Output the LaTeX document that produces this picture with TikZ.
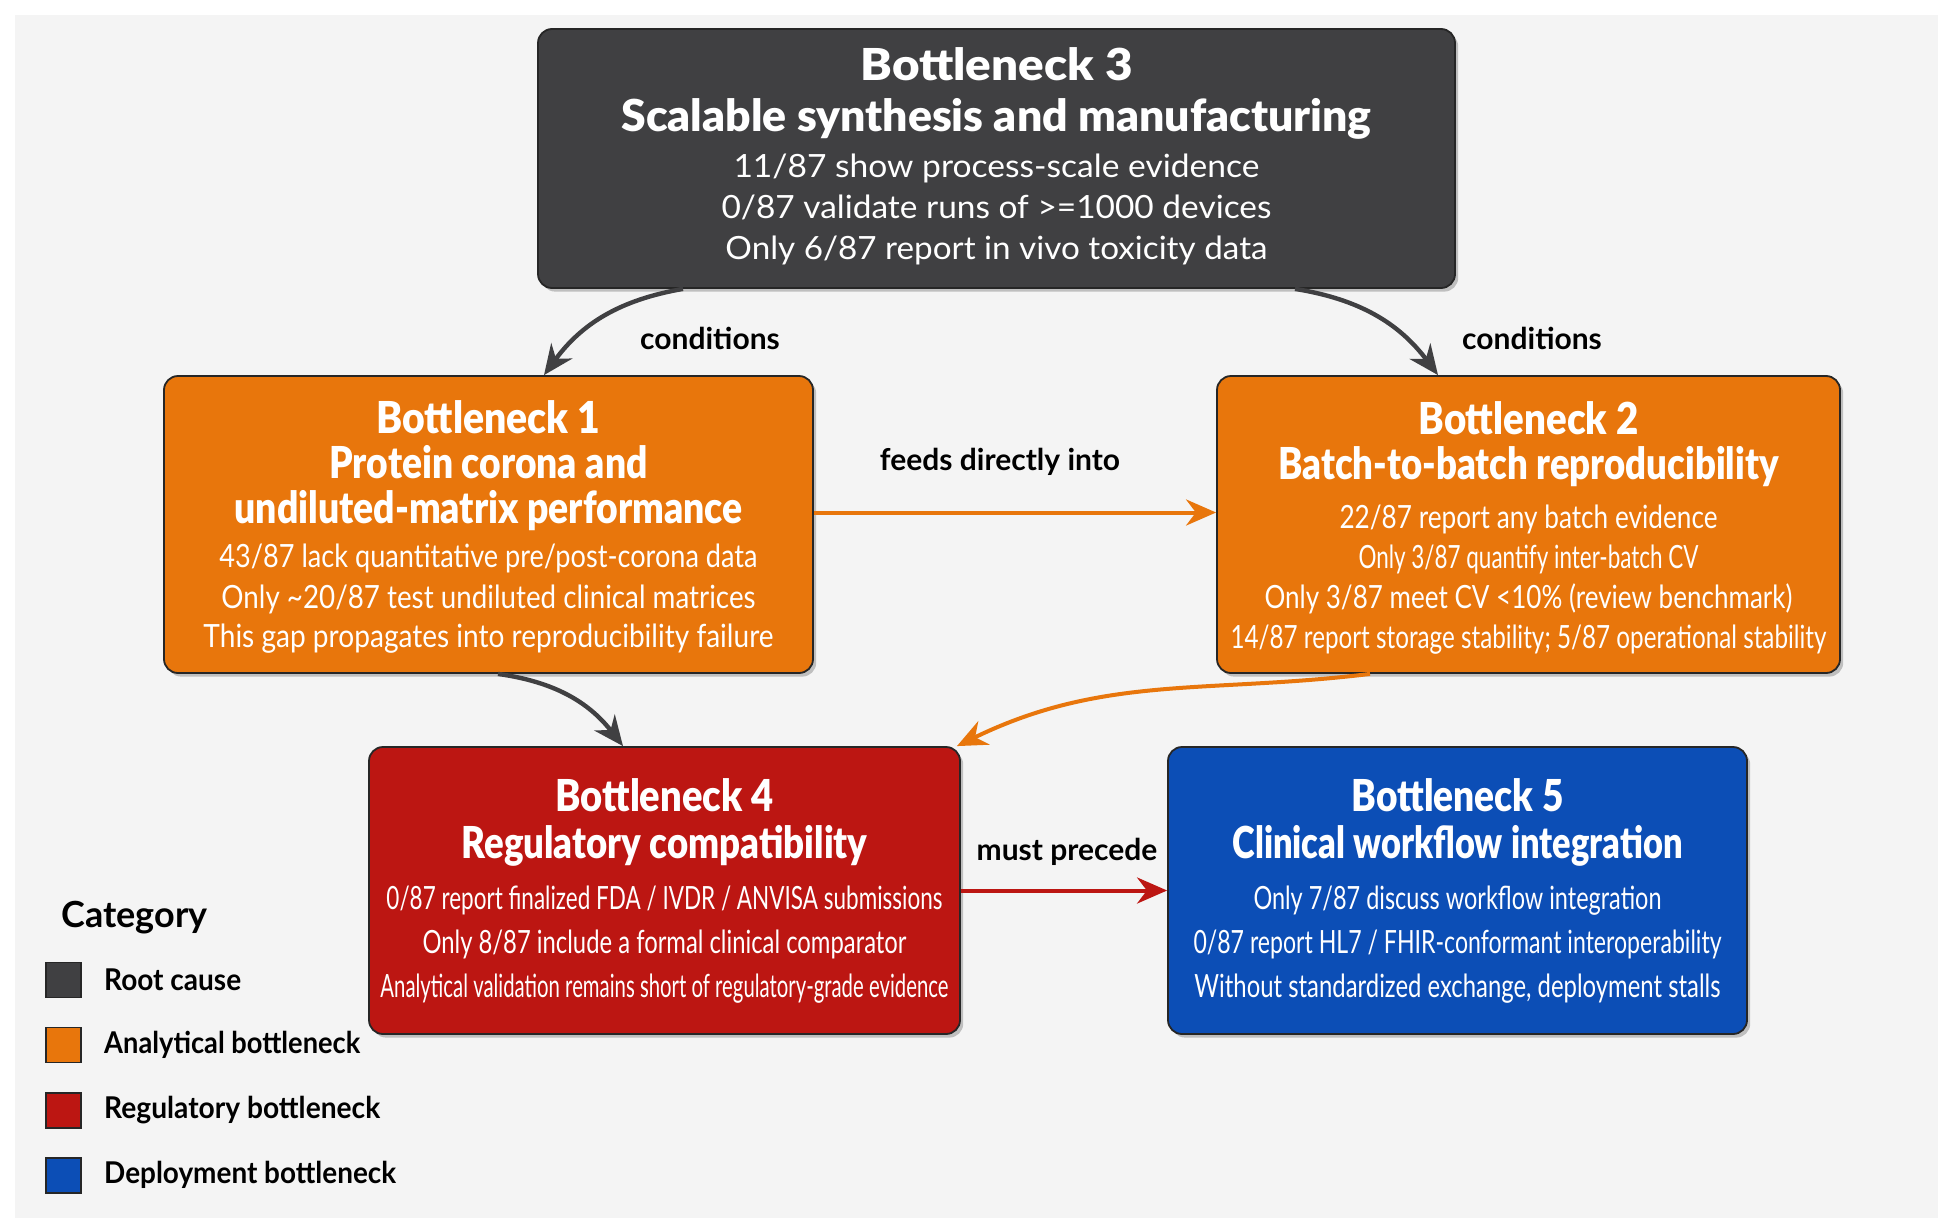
\documentclass[tikz,border=0pt]{standalone}
\usepackage{fontspec}
\setmainfont{Lato}
\newfontfamily\heavyfont{Lato Black}
\usepackage{graphicx}
\usetikzlibrary{arrows.meta,shadows,positioning}

\definecolor{rootgray}{RGB}{64,64,66}
\definecolor{anaorange}{RGB}{232,118,12}
\definecolor{regred}{RGB}{188,22,18}
\definecolor{depblue}{RGB}{12,78,182}
\definecolor{panelgray}{RGB}{244,244,244}

% squeeze one line to a given width, height kept
\newcommand{\fitline}[2]{\resizebox{#1}{\height}{#2}}
\newcommand{\bntitle}{\fontsize{22}{26}\selectfont\heavyfont}

\tikzset{
	bnbox/.style={rectangle, rounded corners=7pt, draw=black!85, line width=0.9pt,
		text=white, align=center, inner sep=0pt,
		drop shadow={shadow xshift=1.6pt, shadow yshift=-1.8pt, opacity=0.45}},
	link/.style={line width=2.2pt, -{Stealth[length=15pt,width=13pt]}},
	linklabel/.style={font=\fontsize{15}{18}\selectfont\bfseries, text=black},
	legsq/.style={draw=black!85, line width=0.8pt, minimum size=17.5pt, inner sep=0pt},
	legtext/.style={font=\fontsize{15}{18}\selectfont\bfseries, anchor=west, inner sep=0pt}
}

\begin{document}
\begin{tikzpicture}[x=0.5pt, y=-0.5pt]
	\useasboundingbox (0,0) rectangle (1953,1231);
	\fill [white] (0,0) rectangle (1953,1231);
	\fill [panelgray] (15,15) rectangle (1938,1218);

	% bottleneck boxes
	\node [bnbox, fill=rootgray, minimum width=458.5pt, minimum height=129.5pt,
		font=\fontsize{16}{20.5}\selectfont] (b3) at (996.5,158.5)
		{{\bntitle\fitline{136pt}{Bottleneck 3}}\\[5pt]
		 {\bntitle\fitline{375pt}{Scalable synthesis and manufacturing}}\\[2.6pt]
		 \fitline{263pt}{11/87 show process-scale evidence}\\
		 \fitline{275pt}{0/87 validate runs of >=1000 devices}\\
		 \fitline{271pt}{Only 6/87 report in vivo toxicity data}\rule[-5.1pt]{0pt}{5.1pt}};

	\node [bnbox, fill=anaorange, minimum width=324.5pt, minimum height=148.5pt,
		font=\fontsize{16}{20.5}\selectfont] (b1) at (488.5,524.5)
		{{\bntitle\rule{0pt}{18.6pt}\fitline{112pt}{Bottleneck 1}}\\[2pt]
		 {\bntitle\fitline{159pt}{Protein corona and}}\\[2pt]
		 {\bntitle\fitline{254pt}{undiluted-matrix performance}}\\[1.5pt]
		 \fitline{269pt}{43/87 lack quantitative pre/post-corona data}\\
		 \fitline{267pt}{Only \textasciitilde20/87 test undiluted clinical matrices}\\[-1pt]
		 \fitline{285pt}{This gap propagates into reproducibility failure}};

	\node [bnbox, fill=anaorange, minimum width=311.5pt, minimum height=148.5pt,
		font=\fontsize{16}{20}\selectfont] (b2) at (1528.5,524.5)
		{{\bntitle\rule{0pt}{19.9pt}\fitline{110pt}{Bottleneck 2}}\\[2.5pt]
		 {\bntitle\fitline{250pt}{Batch-to-batch reproducibility}}\\[4.6pt]
		 \fitline{189pt}{22/87 report any batch evidence}\\
		 \fitline{170pt}{Only 3/87 quantify inter-batch CV}\\
		 \fitline{264pt}{Only 3/87 meet CV <10\% (review benchmark)}\\
		 \fitline{298pt}{14/87 report storage stability; 5/87 operational stability}};

	\node [bnbox, fill=regred, minimum width=295.5pt, minimum height=143.5pt,
		font=\fontsize{16}{22}\selectfont] (b4) at (664.5,890.5)
		{{\bntitle\fitline{109pt}{Bottleneck 4}}\\[1.5pt]
		 {\bntitle\fitline{203pt}{Regulatory compatibility}}\\[3.5pt]
		 \fitline{278pt}{0/87 report finalized FDA / IVDR / ANVISA submissions}\\
		 \fitline{242pt}{Only 8/87 include a formal clinical comparator}\\
		 \fitline{284pt}{Analytical validation remains short of regulatory-grade evidence}};

	\node [bnbox, fill=depblue, minimum width=289.5pt, minimum height=143.5pt,
		font=\fontsize{16}{22}\selectfont] (b5) at (1457.5,890.5)
		{{\bntitle\fitline{106pt}{Bottleneck 5}}\\[1.5pt]
		 {\bntitle\fitline{225pt}{Clinical workflow integration}}\\[3.5pt]
		 \fitline{204pt}{Only 7/87 discuss workflow integration}\\
		 \fitline{264pt}{0/87 report HL7 / FHIR-conformant interoperability}\\
		 \fitline{263pt}{Without standardized exchange, deployment stalls}};

	% connectors
	\draw [link, draw=rootgray] ([xshift=-156.75pt]b3.south) to [bend right=22] ([xshift=27.75pt]b1.north);
	\draw [link, draw=rootgray] ([xshift=149.25pt]b3.south) to [bend left=22] ([xshift=-45.25pt]b2.north);
	\draw [link, draw=anaorange, line width=2pt] ([yshift=6pt]b1.east) -- ([yshift=6pt]b2.west);
	\draw [link, draw=rootgray] ([xshift=4.75pt]b1.south) to [bend left=22] ([xshift=-20.75pt]b4.north);
	\draw [link, draw=anaorange, line width=2pt] ([xshift=-79.25pt]b2.south) to [out=187, in=26] ([xshift=-2pt]b4.north east);
	\draw [link, draw=regred, line width=2pt] (b4.east) -- (b5.west);

	\node [linklabel] (cond1) at (710,338) {conditions};
	\node [linklabel] (cond2) at (1532,338) {conditions};
	\node [linklabel] (feeds) at (1000,462) {feeds directly into};
	\node [linklabel] (precede) at (1067,852) {must precede};

	% legend
	\node [font=\fontsize{18}{20}\selectfont\bfseries, anchor=west, inner sep=0pt] (legtitle) at (61,918) {Category};
	\node [legsq, fill=rootgray] (sqroot) at (63.5,980) {};
	\node [legsq, fill=anaorange, below=14.25pt of sqroot] (sqana) {};
	\node [legsq, fill=regred, below=14.25pt of sqana] (sqreg) {};
	\node [legsq, fill=depblue, below=14.25pt of sqreg] (sqdep) {};
	\node [legtext, right=11pt of sqroot] (txtroot) {\fitline{68.5pt}{Root cause}};
	\node [legtext, right=11pt of sqana] (txtana) {\fitline{128pt}{Analytical bottleneck}};
	\node [legtext, right=11pt of sqreg] (txtreg) {\fitline{138pt}{Regulatory bottleneck}};
	\node [legtext, right=11pt of sqdep] (txtdep) {\fitline{146pt}{Deployment bottleneck}};

\end{tikzpicture}
\end{document}
